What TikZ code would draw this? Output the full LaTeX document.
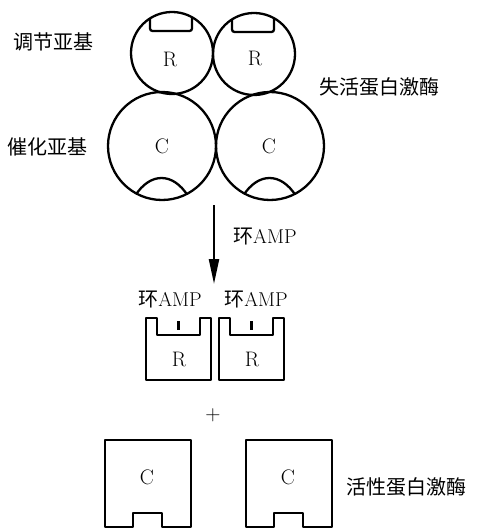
\documentclass[tikz,border=0pt]{standalone}
\usepackage{fontspec}
\newfontfamily\cjk{Noto Sans CJK SC}
\usepackage{tikz}
\usetikzlibrary{arrows.meta,positioning}
% pocket cut into the top of a regulatory subunit
\newcommand{\rpocket}[2]{%
  \begin{scope}
    \clip (#1,#2) circle (41pt);
    \draw[rounded corners=2.5pt] ({#1-22},{#2-50}) rectangle ({#1+20},{#2-22});
  \end{scope}}
% hump at the bottom of a catalytic subunit
\newcommand{\cbump}[2]{%
  \begin{scope}
    \clip (#1,#2) circle (54pt);
    \draw ({#1-27},{#2+50}) .. controls ({#1-12},{#2+26}) and ({#1+11},{#2+26}) .. ({#1+26},{#2+50});
  \end{scope}}
% free regulatory subunit with cAMP bound
\newcommand{\regbox}[2]{%
  \draw (#1,#2) -- ({#1+11},#2) -- ({#1+11},{#2+17}) -- ({#1+54},{#2+17}) -- ({#1+54},#2)
    -- ({#1+65},#2) -- ({#1+65},{#2+62}) -- (#1,{#2+62}) -- cycle;
  \draw[line width=3pt] ({#1+32.5},{#2+3}) -- ({#1+32.5},{#2+12});}
% free catalytic subunit
\newcommand{\catbox}[2]{%
  \draw (#1,#2) -- ({#1+86},#2) -- ({#1+86},{#2+87}) -- ({#1+57},{#2+87}) -- ({#1+57},{#2+73})
    -- ({#1+28},{#2+73}) -- ({#1+28},{#2+87}) -- (#1,{#2+87}) -- cycle;}

\begin{document}
\begin{tikzpicture}[x=1pt,y=-1pt,line width=2.3pt,line join=round,
  lab/.style={font=\fontsize{20}{22}\selectfont,inner sep=0pt},
  sub/.style={font=\fontsize{21}{24}\selectfont,inner sep=0pt}]
\useasboundingbox (0,0) rectangle (479,529);
% inactive kinase: R2C2
\draw (172,53) circle (41pt); \node[sub] (rL) at (170,59) {R};
\draw (254,54) circle (41pt); \node[sub] (rR) at (255,58) {R};
\rpocket{172}{53}
\rpocket{254}{54}
\draw (162,146) circle (54pt); \node[sub] (cL) at (162,146) {C};
\draw (270,146) circle (54pt); \node[sub] (cR) at (269,146) {C};
\cbump{162}{146}
\cbump{270}{146}
\node[lab,anchor=west] (regname) at (12,42) {\cjk 调节亚基};
\node[lab,anchor=west] (catname) at (6,147) {\cjk 催化亚基};
\node[lab,anchor=west] (inactive) at (318,87) {\cjk 失活蛋白激酶};
% activation by cAMP
\coordinate (arrtop) at (214,205);
\coordinate (arrbot) at (214,284);
\draw[-{Triangle[length=25pt,width=10pt]}] (arrtop) -- (arrbot);
\node[lab,anchor=west] (camp) at (232,237) {{\cjk 环}AMP};
% dissociated subunits
\node[lab] (campL) at (170,300) {{\cjk 环}AMP};
\node[lab] (campR) at (256,300) {{\cjk 环}AMP};
\regbox{146}{318}
\regbox{219}{318}
\node[sub] (rL2) at (179,359) {R};
\node[sub] (rR2) at (252,359) {R};
\node[sub] (plus) at (213,415) {+};
\catbox{105}{440}
\catbox{246}{440}
\node[sub] (cL2) at (147,477) {C};
\node[sub] (cR2) at (288,477) {C};
\node[lab,anchor=west] (active) at (345,487) {\cjk 活性蛋白激酶};
\end{tikzpicture}
\end{document}
